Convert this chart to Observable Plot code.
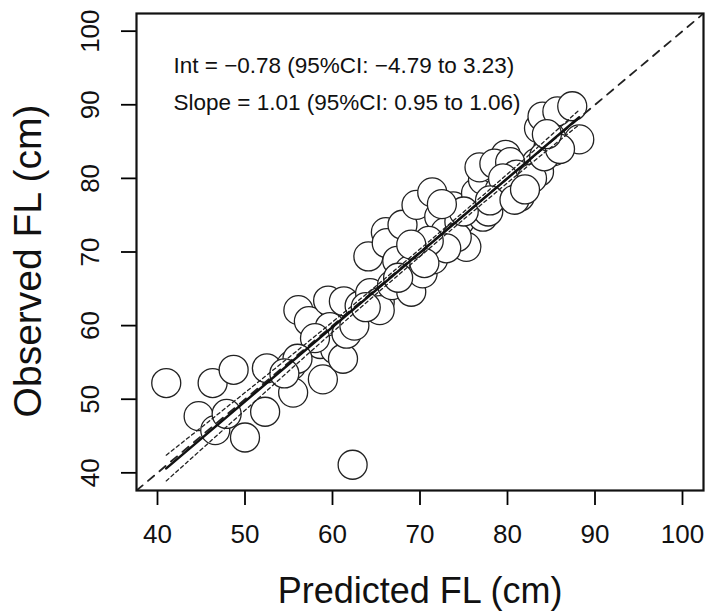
<!DOCTYPE html>
<html>
<head>
<meta charset="utf-8">
<script src="https://cdn.jsdelivr.net/npm/d3@7"></script>
<script src="https://cdn.jsdelivr.net/npm/@observablehq/plot@0.6"></script>
<style>
  html, body { margin: 0; padding: 0; background: #fff; }
  svg { display: block; }
</style>
</head>
<body>
<div id="chart"></div>
<script>
const predicted = [41.0,44.7,46.3,46.6,47.9,48.7,50.0,52.3,52.5,55.3,55.5,56.1,57.3,58.6,58.9,59.5,59.7,60.3,61.2,61.3,61.6,62.3,63.1,64.3,65.4,65.4,64.1,66.1,66.2,66.8,67.4,68.0,68.8,69.0,69.6,70.0,70.3,71.4,71.5,72.2,72.9,73.8,74.5,75.3,76.0,76.4,77.2,77.2,77.8,78.3,79.1,79.8,80.6,81.4,83.3,83.6,83.6,84.0,84.7,85.3,85.7,87.4,88.2,76.8,78.5,80.3,81.0,79.5,82.8,84.2,85.0,74.2,75.0,73.0,71.0,70.5,67.5,62.5,63.8,58.0,56.0,54.5,78.0,80.8,82.0,86.0,84.5,69.0,72.5];
const observed  = [52.2,47.7,52.2,45.8,48.0,54.0,44.8,48.3,54.2,54.6,50.9,62.1,60.6,57.5,52.7,63.4,59.8,56.8,55.5,63.3,58.9,41.1,62.7,64.4,63.2,62.1,69.4,72.7,71.2,65.5,68.8,73.7,67.5,64.6,76.4,70.2,67.1,78.1,69.0,74.8,72.7,76.2,74.1,70.7,76.2,78.0,74.8,79.8,75.5,81.4,78.4,83.2,79.8,77.5,82.1,80.9,86.8,88.4,84.3,83.7,89.1,89.8,85.3,81.5,82.0,82.2,80.5,80.0,80.0,83.0,85.5,72.0,75.5,70.5,71.5,68.5,66.5,60.0,62.5,58.3,55.5,53.5,77.0,77.1,78.5,84.0,86.0,71.0,76.5];

const xTicks = [40,50,60,70,80,90,100];
const yTicks = [40,50,60,70,80,90,100];

// fitted regression line
const fitX = [41.0, 88.2];
const fitY = [40.6, 88.3];
// 95% confidence band of the fit
const ciX     = [41.0, 50.0, 60.0, 70.0, 80.0, 88.2];
const ciUpper = [42.4, 50.9, 60.5, 70.4, 80.6, 89.3];
const ciLower = [38.9, 48.5, 59.1, 69.4, 79.4, 87.3];
// 1:1 reference line
const refLine = [37.6, 102.4];

const annotations = ["Int = \u22120.78 (95%CI: \u22124.79 to 3.23)", "Slope = 1.01 (95%CI: 0.95 to 1.06)"];
const xLabel = "Predicted FL (cm)";
const yLabel = "Observed FL (cm)";

const points = predicted.map((p, i) => ({p, o: observed[i]}));
const fit = fitX.map((x, i) => ({x, y: fitY[i]}));
const ciU = ciX.map((x, i) => ({x, y: ciUpper[i]}));
const ciL = ciX.map((x, i) => ({x, y: ciLower[i]}));
const ref = refLine.map(v => ({x: v, y: v}));

const font = "'Liberation Sans', Arial, sans-serif";

const chart = Plot.plot({
  width: 710,
  height: 615,
  marginLeft: 136,
  marginRight: 7,
  marginTop: 13,
  marginBottom: 125,
  style: {fontFamily: font, background: "white", color: "black"},
  x: {domain: [37.6, 102.4], axis: null},
  y: {domain: [37.6, 102.4], axis: null},
  marks: [
    Plot.axisX({ticks: xTicks, tickSize: 15, tickFormat: () => "", label: null, strokeWidth: 1.8}),
    Plot.axisY({ticks: yTicks, tickSize: 15, tickFormat: () => "", label: null, strokeWidth: 1.8}),
    Plot.text(xTicks, {x: d => d, frameAnchor: "bottom", dy: 44, text: d => String(d), fontSize: 26, lineAnchor: "middle", textAnchor: "middle", fill: "#111"}),
    Plot.text(yTicks, {y: d => d, frameAnchor: "left", dx: -46, rotate: -90, text: d => String(d), fontSize: 26, lineAnchor: "middle", textAnchor: "middle", fill: "#111"}),
    Plot.text([xLabel], {frameAnchor: "bottom", dy: 101, text: d => d, fontSize: 36, lineAnchor: "middle", textAnchor: "middle", fill: "#111"}),
    Plot.text([yLabel], {frameAnchor: "left", dx: -108, dy: 9, rotate: -90, text: d => d, fontSize: 39, lineAnchor: "middle", textAnchor: "middle", fill: "#111"}),
    Plot.dot(points, {x: "p", y: "o", r: 14.5, fill: "white", stroke: "#222", strokeWidth: 1.3}),
    Plot.line(ref, {x: "x", y: "y", stroke: "#222", strokeWidth: 1.8, strokeDasharray: "8,7", clip: true}),
    Plot.line(ciU, {x: "x", y: "y", curve: "natural", stroke: "#222", strokeWidth: 1.3, strokeDasharray: "3.5,3"}),
    Plot.line(ciL, {x: "x", y: "y", curve: "natural", stroke: "#222", strokeWidth: 1.3, strokeDasharray: "3.5,3"}),
    Plot.line(fit, {x: "x", y: "y", stroke: "#111", strokeWidth: 2.5}),
    Plot.text([annotations[0]], {frameAnchor: "top-left", dx: 37, dy: 52, text: d => d, fontSize: 22.5, lineAnchor: "middle", textAnchor: "start", fill: "#111"}),
    Plot.text([annotations[1]], {frameAnchor: "top-left", dx: 37, dy: 89.5, text: d => d, fontSize: 22.5, lineAnchor: "middle", textAnchor: "start", fill: "#111"}),
    Plot.frame({stroke: "#111", strokeWidth: 2.2})
  ]
});
document.getElementById("chart").appendChild(chart);
</script>
</body>
</html>
